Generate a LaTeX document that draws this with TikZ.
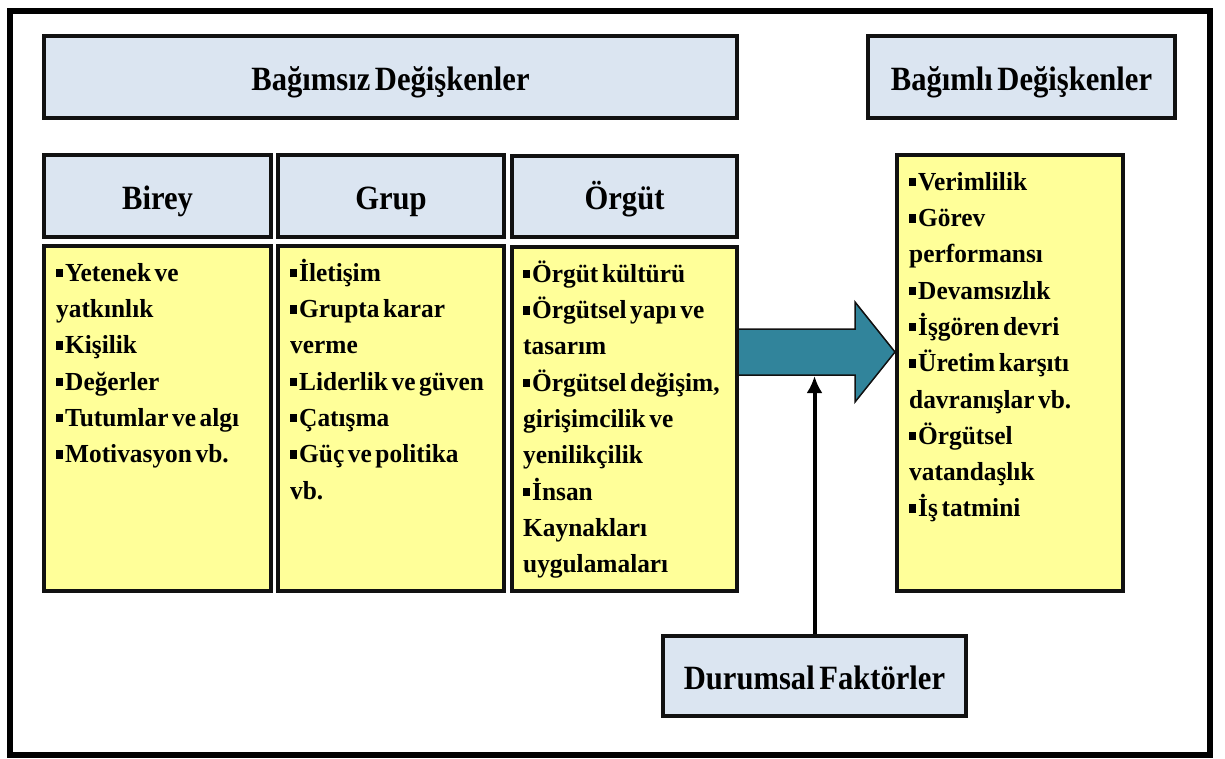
\documentclass[tikz,border=0pt]{standalone}
\usepackage{fontspec}
\setmainfont{Liberation Serif}
\newfontfamily\headfont[FakeStretch=0.9,WordSpace=0.6]{Liberation Serif}
\newfontfamily\bodyfont[FakeStretch=0.975]{Liberation Serif}
\usetikzlibrary{arrows.meta,calc}

\definecolor{hdrblue}{HTML}{DBE5F1}
\definecolor{noteyellow}{HTML}{FFFF99}
\definecolor{arrowteal}{HTML}{31849B}
\definecolor{boxline}{HTML}{111111}

% small square bullet; tight word spacing and a strut fixing the height of the first line
\newcommand\bul{\rule[4pt]{7pt}{8.5pt}\hspace{2pt}}
\newcommand\firstline{\spaceskip=0.14em\relax\rule{0pt}{24pt}}

\begin{document}
\begin{tikzpicture}[x=1pt,y=-1pt,
  box/.style={draw=boxline, line width=4pt, rectangle, inner sep=0pt},
  hdr/.style={box, fill=hdrblue, font=\headfont\bfseries\fontsize{34}{40}\selectfont,
              text height=26pt, text depth=0pt},
  note/.style={box, fill=noteyellow},
  bullets/.style={anchor=north west, inner sep=0pt, text width=220pt, align=left,
                  font=\bodyfont\bfseries\fontsize{26}{36.3}\selectfont},
  blockarrow/.style={fill=arrowteal, draw=boxline, line width=1.5pt, line join=miter},
  feed/.style={draw=black, line width=4pt, -{Latex[length=17pt,width=16pt]}},
]
\useasboundingbox (0,0) rectangle (1225,758);
\fill[white] (0,0) rectangle (1225,758);

% outer frame
\draw[line width=5.5pt, black] (10,11) rectangle (1210,755);

% top titles
\node[hdr, minimum width=693pt, minimum height=82pt] (indep) at (390.5,77) {Bağımsız Değişkenler};
\node[hdr, minimum width=307pt, minimum height=82pt] (dep) at (1021.5,77) {Bağımlı Değişkenler};

% column headers
\node[hdr, minimum width=227pt, minimum height=82pt] (bireyh) at (157.5,196) {Birey};
\node[hdr, minimum width=226pt, minimum height=82pt] (gruph) at (391,196) {Grup};
\node[hdr, minimum width=225pt, minimum height=81pt] (orguth) at (624.5,196.5) {Örgüt};

% column bodies
\node[note, minimum width=227pt, minimum height=345pt] (bireyb) at (157.5,418.5) {};
\node[note, minimum width=226pt, minimum height=345pt] (grupb) at (391,418.5) {};
\node[note, minimum width=225pt, minimum height=344pt] (orgutb) at (624.5,419) {};
\node[note, minimum width=226pt, minimum height=436pt] (depb) at (1010,373) {};

% situational factors
\node[hdr, minimum width=303pt, minimum height=80pt] (durum) at (814.5,676) {Durumsal Faktörler};

% list texts
\node[bullets] (bireyt) at ($(bireyb.north west)+(14,13)$)
  {\firstline\bul Yetenek ve\\ yatkınlık\\ \bul Kişilik\\ \bul Değerler\\ \bul Tutumlar ve algı\\ \bul Motivasyon vb.};
\node[bullets] (grupt) at ($(grupb.north west)+(14,13)$)
  {\firstline\bul İletişim\\ \bul Grupta karar\\ verme\\ \bul Liderlik ve güven\\ \bul Çatışma\\ \bul Güç ve politika\\ vb.};
\node[bullets] (orgutt) at ($(orgutb.north west)+(13,13)$)
  {\firstline\bul Örgüt kültürü\\ \bul Örgütsel yapı ve\\ tasarım\\ \bul Örgütsel değişim,\\ girişimcilik ve\\ yenilikçilik\\ \bul İnsan\\ Kaynakları\\ uygulamaları};
\node[bullets] (dept) at ($(depb.north west)+(14,13)$)
  {\firstline\bul Verimlilik\\ \bul Görev\\ performansı\\ \bul Devamsızlık\\ \bul İşgören devri\\ \bul Üretim karşıtı\\ davranışlar vb.\\ \bul Örgütsel\\ vatandaşlık\\ \bul İş tatmini};

% block arrow from the organisation column to the outcomes
\coordinate (as) at ($(orgutb.east)+(0,-67)$);
\coordinate (ae) at ($(depb.west)+(0,-21)$);
\draw[blockarrow] ($(as)+(0,-23)$) -- ($(ae)+(-40,-23)$) -- ($(ae)+(-40,-50)$) -- (ae)
  -- ($(ae)+(-40,50)$) -- ($(ae)+(-40,23)$) -- ($(as)+(0,23)$);

% situational factors acting on the arrow
\coordinate (hit) at ($(as)+(0,24)$);
\draw[feed] (durum.north) -- (durum.north |- hit);
\end{tikzpicture}
\end{document}
